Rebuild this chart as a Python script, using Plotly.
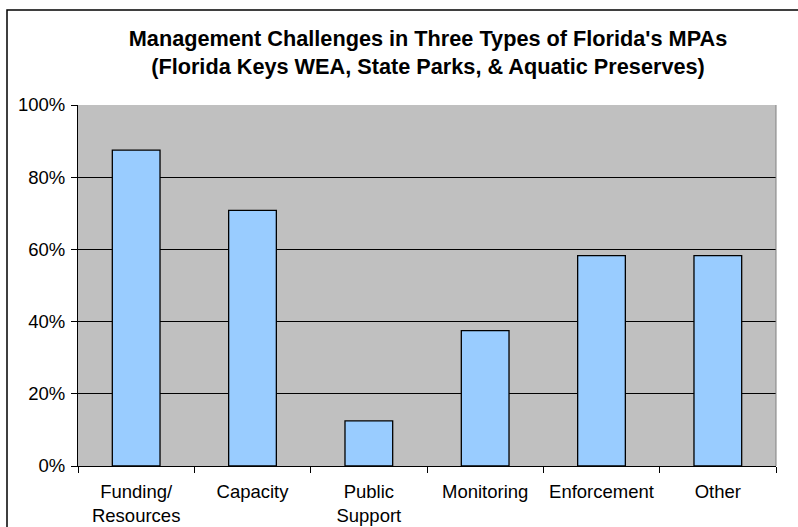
import plotly.graph_objects as go

categories = ["Funding/<br>Resources", "Capacity", "Public<br>Support", "Monitoring", "Enforcement", "Other"]
values = [0.875, 0.708, 0.125, 0.375, 0.583, 0.583]
title_lines = ["Management Challenges in Three Types of Florida's MPAs",
               "(Florida Keys WEA, State Parks, & Aquatic Preserves)"]

W, H = 798, 527
L, R, T, B = 78, 22, 105, 61
pw, ph = W - L - R, H - T - B

fig = go.Figure(go.Bar(
    x=categories, y=values, width=0.41,
    marker=dict(color="#99CCFF", line=dict(color="black", width=1.3)),
))

font = "Liberation Sans, Arial, sans-serif"
fig.update_layout(
    width=W, height=H,
    margin=dict(l=L, r=R, t=T, b=B, autoexpand=False),
    paper_bgcolor="white", plot_bgcolor="#C0C0C0",
    showlegend=False,
    font=dict(family=font, size=18.5, color="black"),
    title=dict(text="<b>" + title_lines[0] + "</b><br><b>" + title_lines[1] + "</b>",
               x=428 / W, xanchor="center", xref="container", y=1 - 46 / H, yanchor="top",
               font=dict(family=font, size=21.7, color="black")),
)
fig.update_xaxes(
    type="category", tickson="boundaries", ticks="outside", ticklen=6, tickcolor="black",
    showline=True, linecolor="black", linewidth=1, showgrid=False,
    tickfont=dict(size=18.5), automargin=False, ticklabelstandoff=9,
)
fig.update_yaxes(
    range=[0, 1], dtick=0.2, tickformat=".0%", ticks="outside", ticklen=6, tickcolor="black",
    showline=True, linecolor="black", linewidth=1,
    showgrid=True, gridcolor="black", gridwidth=1,
    zeroline=True, zerolinecolor="black", zerolinewidth=1,
    tickfont=dict(size=18.5), automargin=False, ticklabelstandoff=2,
)
# outer chart border
fig.add_shape(type="rect", xref="paper", yref="paper",
              x0=(7 - L) / pw, x1=(W + 20 - L) / pw,
              y0=-(H + 20 - T - ph) / ph, y1=1 + (T - 10) / ph,
              line=dict(color="black", width=1.5), fillcolor="rgba(0,0,0,0)", layer="above")
# plot area right border
fig.add_shape(type="line", xref="paper", yref="paper", x0=1, x1=1, y0=0, y1=1,
              line=dict(color="#808080", width=1))

fig.write_html("out.html", config={"displayModeBar": False},
               post_script="document.body.style.margin='0';")
